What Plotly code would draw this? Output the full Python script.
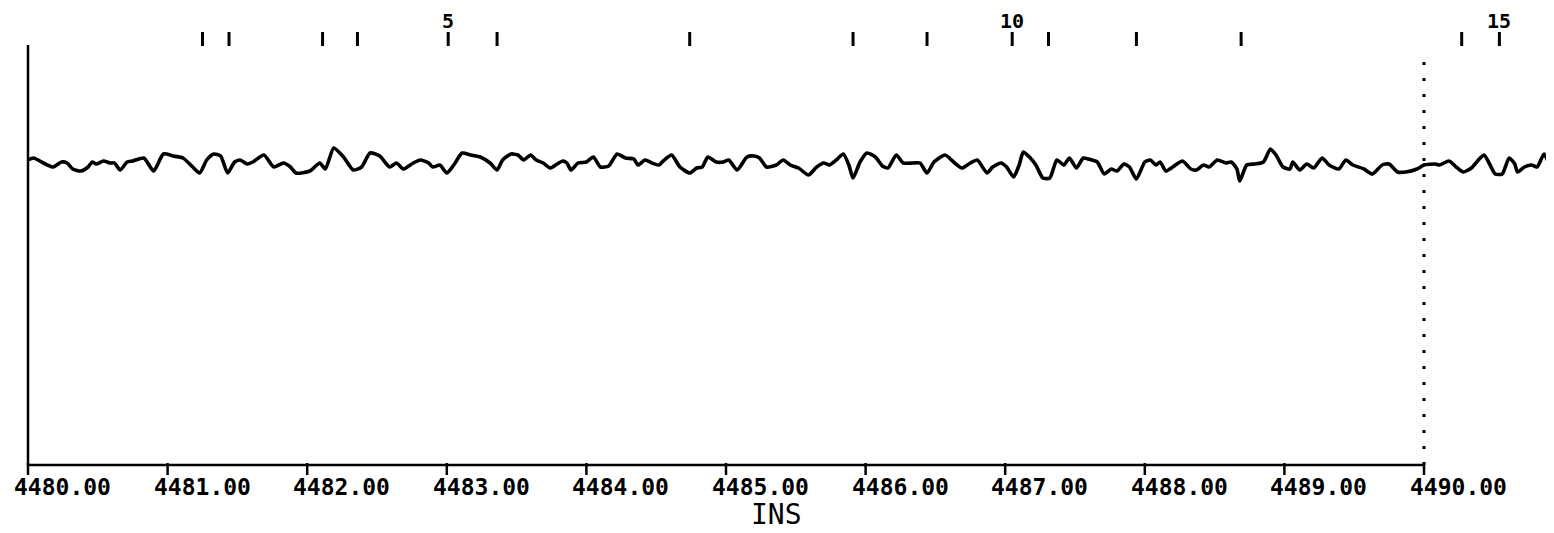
import plotly.graph_objects as go

# ---- data ----
trace_x = [
    4480.00, 4480.04, 4480.11, 4480.18, 4480.24, 4480.28, 4480.32, 4480.38, 4480.43, 4480.46,
    4480.49, 4480.54, 4480.59, 4480.62, 4480.66, 4480.71, 4480.75, 4480.83, 4480.90, 4480.97,
    4481.04, 4481.11, 4481.18, 4481.23, 4481.28, 4481.33, 4481.38, 4481.43, 4481.48, 4481.52,
    4481.57, 4481.61, 4481.69, 4481.76, 4481.83, 4481.88, 4481.92, 4482.02, 4482.09, 4482.13,
    4482.19, 4482.26, 4482.33, 4482.39, 4482.45, 4482.52, 4482.59, 4482.64, 4482.69, 4482.76,
    4482.81, 4482.87, 4482.90, 4482.95, 4483.00, 4483.05, 4483.11, 4483.17, 4483.24, 4483.31,
    4483.36, 4483.40, 4483.46, 4483.51, 4483.55, 4483.60, 4483.64, 4483.69, 4483.74, 4483.79,
    4483.83, 4483.86, 4483.89, 4483.94, 4484.00, 4484.05, 4484.10, 4484.16, 4484.22, 4484.28,
    4484.34, 4484.37, 4484.42, 4484.47, 4484.52, 4484.55, 4484.61, 4484.67, 4484.74, 4484.79,
    4484.83, 4484.87, 4484.93, 4484.98, 4485.02, 4485.08, 4485.15, 4485.20, 4485.24, 4485.29,
    4485.36, 4485.41, 4485.46, 4485.52, 4485.59, 4485.65, 4485.70, 4485.74, 4485.79, 4485.84,
    4485.88, 4485.91, 4485.96, 4486.01, 4486.07, 4486.12, 4486.16, 4486.22, 4486.27, 4486.34,
    4486.39, 4486.44, 4486.49, 4486.57, 4486.63, 4486.69, 4486.75, 4486.80, 4486.87, 4486.91,
    4486.97, 4487.01, 4487.06, 4487.10, 4487.13, 4487.18, 4487.22, 4487.27, 4487.32, 4487.37,
    4487.42, 4487.46, 4487.51, 4487.56, 4487.62, 4487.66, 4487.71, 4487.76, 4487.80, 4487.85,
    4487.89, 4487.94, 4488.00, 4488.04, 4488.08, 4488.11, 4488.15, 4488.20, 4488.27, 4488.33,
    4488.37, 4488.42, 4488.46, 4488.52, 4488.58, 4488.62, 4488.66, 4488.68, 4488.73, 4488.79,
    4488.85, 4488.90, 4488.94, 4488.99, 4489.04, 4489.06, 4489.11, 4489.16, 4489.21, 4489.27,
    4489.32, 4489.39, 4489.44, 4489.49, 4489.57, 4489.63, 4489.70, 4489.75, 4489.81, 4489.87,
    4489.95, 4490.00, 4490.08, 4490.11, 4490.18, 4490.23, 4490.28, 4490.34, 4490.39, 4490.43,
    4490.47, 4490.51, 4490.56, 4490.61, 4490.65, 4490.67, 4490.72, 4490.77, 4490.81, 4490.86,
    4490.90, 4490.92,
]
trace_y = [
    305, 307, 302, 298, 303, 302, 296, 294, 298, 303,
    301, 304, 302, 302, 295, 303, 304, 307, 294, 311,
    309, 307, 298, 292, 305, 311, 309, 292, 303, 305,
    301, 303, 310, 298, 302, 298, 292, 294, 302, 296,
    317, 308, 295, 298, 312, 309, 298, 302, 296, 302,
    305, 302, 298, 300, 292, 300, 312, 310, 308, 302,
    295, 305, 311, 310, 305, 310, 305, 302, 297, 301,
    304, 302, 295, 302, 303, 308, 298, 299, 311, 307,
    306, 300, 305, 302, 300, 304, 310, 298, 292, 297,
    298, 308, 303, 303, 305, 295, 308, 309, 307, 298,
    300, 305, 300, 297, 290, 298, 302, 300, 305, 311,
    300, 287, 303, 312, 308, 299, 297, 310, 302, 302,
    302, 292, 303, 310, 303, 297, 302, 305, 292, 298,
    302, 298, 288, 300, 313, 307, 300, 287, 287, 305,
    300, 307, 297, 307, 305, 303, 291, 296, 294, 301,
    298, 286, 303, 305, 300, 303, 294, 298, 304, 296,
    295, 300, 298, 305, 302, 303, 296, 284, 300, 301,
    303, 316, 310, 298, 296, 303, 295, 301, 297, 307,
    300, 296, 305, 300, 296, 291, 300, 301, 293, 293,
    296, 300, 301, 300, 304, 298, 293, 297, 305, 310,
    301, 291, 291, 307, 301, 293, 298, 300, 298, 311,
    300, 296,
]

axis_ticks = [4480, 4481, 4482, 4483, 4484, 4485, 4486, 4487, 4488, 4489, 4490]
axis_labels = ["4480.00", "4481.00", "4482.00", "4483.00", "4484.00", "4485.00",
               "4486.00", "4487.00", "4488.00", "4489.00", "4490.00"]
x_title = "INS"

event_x = [4481.25, 4481.44, 4482.11, 4482.36, 4483.01, 4483.36, 4484.74, 4485.91,
           4486.44, 4487.05, 4487.31, 4487.94, 4488.69, 4490.27, 4490.54]
event_numbers = [5, 10, 15]

marker_x = 4490.0  # dotted vertical line

# ---- layout constants (page body has an 8px margin) ----
PX = 139.6          # pixels per INS unit
X0_PX = 20          # pixel position of 4480 inside the figure
W, H = 1546, 525
Y_TOP = 457         # data value at the figure's top pixel row
X_MIN = 4480 - X0_PX / PX
X_MAX = 4480 + (W - X0_PX) / PX
Y_MIN = Y_TOP - H

fig = go.Figure()
fig.add_trace(go.Scatter(
    x=trace_x, y=trace_y, mode="lines",
    line=dict(color="black", width=3.6, shape="spline", smoothing=0.6),
    hoverinfo="skip", showlegend=False,
))

shapes = []
shapes.append(dict(type="line", x0=4480, x1=4480, y0=0, y1=420, xref="x", yref="y",
                   line=dict(color="black", width=2.5)))
shapes.append(dict(type="line", x0=4480, x1=axis_ticks[-1], y0=0, y1=0, xref="x", yref="y",
                   line=dict(color="black", width=2.5)))
for t in axis_ticks:
    shapes.append(dict(type="line", x0=t, x1=t, y0=2, y1=-10, xref="x", yref="y",
                       line=dict(color="black", width=2.5)))
shapes.append(dict(type="line", x0=marker_x, x1=marker_x, y0=0, y1=410, xref="x", yref="y",
                   line=dict(color="black", width=3, dash="3px,13px")))
for ex in event_x:
    shapes.append(dict(type="line", x0=ex, x1=ex, y0=419, y1=433, xref="x", yref="y",
                       line=dict(color="black", width=3)))

annotations = []
for t, lab in zip(axis_ticks, axis_labels):
    annotations.append(dict(x=t, y=-22, xref="x", yref="y", text="<b>" + lab + "</b>",
                            showarrow=False, xanchor="left", yanchor="middle", xshift=-16,
                            font=dict(family="DejaVu Sans Mono", size=23, color="black")))
annotations.append(dict(x=4485.36, y=-49, xref="x", yref="y", text=x_title, showarrow=False,
                        xanchor="center", yanchor="middle",
                        font=dict(family="DejaVu Sans Mono", size=28, color="black")))
for n in event_numbers:
    annotations.append(dict(x=event_x[n - 1], y=444, xref="x", yref="y", text=f"<b>{n}</b>",
                            showarrow=False, xanchor="center", yanchor="middle",
                            font=dict(family="DejaVu Sans Mono", size=20, color="black")))

fig.update_layout(
    width=W, height=H,
    margin=dict(l=0, r=0, t=0, b=0),
    paper_bgcolor="white", plot_bgcolor="white",
    xaxis=dict(range=[X_MIN, X_MAX], visible=False, fixedrange=True),
    yaxis=dict(range=[Y_MIN, Y_TOP], visible=False, fixedrange=True),
    shapes=shapes, annotations=annotations,
)

fig.write_html("out.html")
